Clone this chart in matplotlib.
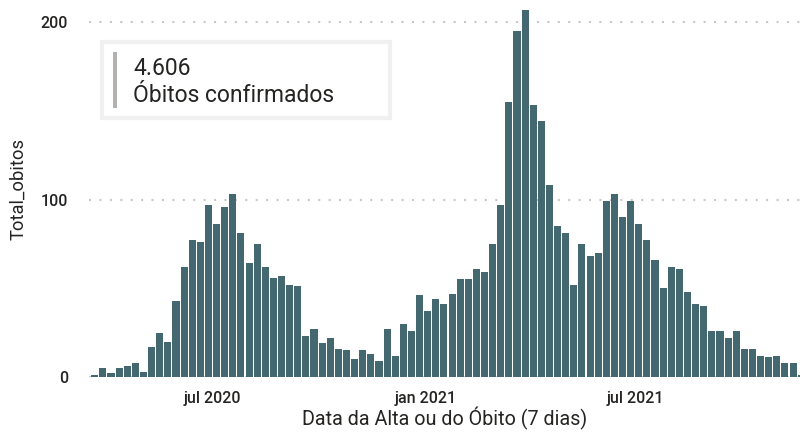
import matplotlib
matplotlib.use('Agg')
import matplotlib.pyplot as plt
import matplotlib.patches as mpatches
import pandas as pd

# Weekly deaths (7-day bins)
weeks = pd.date_range('2020-03-22', periods=88, freq='7D')
total_obitos = [
    1, 5, 2, 5, 6, 8, 3, 17, 25, 20,
    43, 62, 77, 76, 97, 86, 96, 103, 81, 64,
    75, 62, 56, 57, 52, 51, 23, 27, 19, 22,
    16, 15, 10, 15, 13, 9, 27, 12, 30, 26,
    46, 37, 44, 41, 47, 55, 55, 61, 59, 75,
    97, 155, 195, 207, 153, 144, 108, 85, 81, 52,
    75, 68, 70, 99, 103, 90, 99, 86, 77, 66,
    50, 62, 61, 48, 41, 40, 26, 26, 22, 26,
    16, 16, 12, 11, 12, 8, 8, 1,
]
tick_dates = ['2020-07-01', '2021-01-01', '2021-07-01']
tick_labels = ['jul 2020', 'jan 2021', 'jul 2021']
card_value = '4.606'
card_label = 'Óbitos confirmados'

bar_color = '#436870'
text_color = '#252423'
plt.rcParams['font.family'] = ['Roboto', 'DejaVu Sans']

fig = plt.figure(figsize=(8, 4.32), dpi=100)
ax = fig.add_axes([89 / 800, 55 / 432, 711 / 800, 377 / 432])

ax.bar(weeks, total_obitos, width=6.1, color=bar_color, zorder=2)

ax.set_xlim(pd.Timestamp('2020-03-17'), pd.Timestamp('2021-11-20'))
ax.set_ylim(0, 212.4)

ax.set_yticks([0, 100, 200])
ax.set_xticks(pd.to_datetime(tick_dates))
ax.set_xticklabels(tick_labels)
ax.tick_params(axis='both', length=0, labelsize=11.5, colors=text_color)
ax.tick_params(axis='y', pad=15)
ax.tick_params(axis='x', pad=10)
for lbl in ax.get_xticklabels() + ax.get_yticklabels():
    lbl.set_fontweight('medium')

ax.grid(True, axis='y', color='#c8c8c8', linewidth=1.5, linestyle=(0, (1, 4)), zorder=0)
for s in ax.spines.values():
    s.set_visible(False)

ax.set_ylabel('Total_obitos', fontsize=13.2, color=text_color, labelpad=10)
ax.set_xlabel('Data da Alta ou do Óbito (7 dias)', fontsize=14.2, color=text_color, labelpad=1)

# Card with total
fig.patches.append(mpatches.Rectangle((102 / 800, 1 - 118 / 432), 288 / 800, 76 / 432,
                                      transform=fig.transFigure, facecolor='white',
                                      edgecolor='#f0f0f0', linewidth=3, zorder=5))
fig.patches.append(mpatches.Rectangle((113 / 800, 1 - 108 / 432), 4 / 800, 56 / 432,
                                      transform=fig.transFigure, facecolor='#b3b0ad',
                                      edgecolor='none', zorder=6))
fig.text(133 / 800, 1 - 75 / 432, card_value, fontsize=16.5, color=text_color,
         va='baseline', ha='left', zorder=7)
fig.text(133 / 800, 1 - 102 / 432, card_label, fontsize=16.5, color=text_color,
         va='baseline', ha='left', zorder=7)

plt.savefig('out.png', dpi=100)
